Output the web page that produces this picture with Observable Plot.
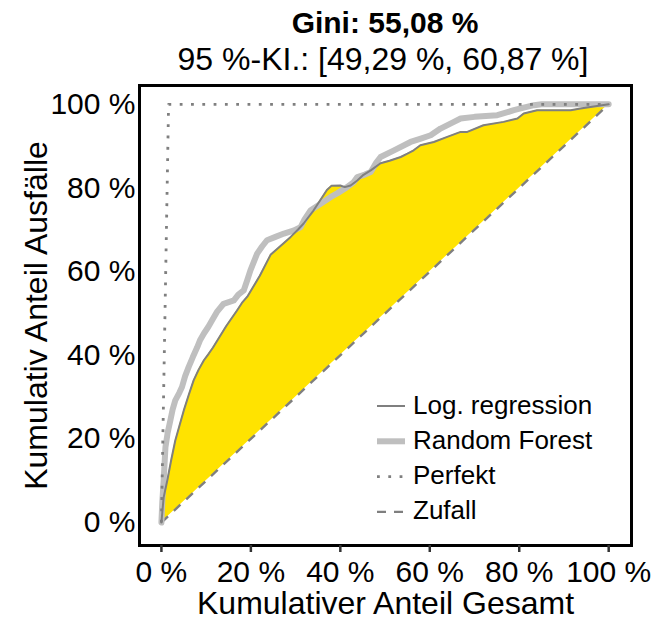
<!DOCTYPE html>
<html>
<head>
<meta charset="utf-8">
<script src="https://cdn.jsdelivr.net/npm/d3@7"></script>
<script src="https://cdn.jsdelivr.net/npm/@observablehq/plot@0.6"></script>
<style>
  body { margin: 0; background: white; }
  #wrap { position: relative; width: 671px; height: 619px; font-family: "Liberation Sans", Arial, sans-serif; }
  #head, #legend { position: absolute; left: 0; top: 0; }
  #plot { position: absolute; left: 0; top: 80px; }
</style>
</head>
<body>
<div id="wrap">
  <svg id="head" width="671" height="80"></svg>
  <div id="plot"></div>
  <svg id="legend" width="671" height="619"></svg>
</div>
<script>
// ---- Data (percent) ----
const titleText = "Gini: 55,08 %";
const subtitleText = "95 %-KI.: [49,29 %, 60,87 %]";
const xLabel = "Kumulativer Anteil Gesamt";
const yLabel = "Kumulativ Anteil Ausfälle";
const xTicks = [0, 20, 40, 60, 80, 100];
const yTicks = [0, 20, 40, 60, 80, 100];

const logX = [0, 0.5, 1.3, 2.2, 3.1, 4, 5, 6.1, 7.2, 8.3, 9.5, 10.6, 11.5, 12.5, 14.5, 16.9, 18, 19.2, 20.5, 22, 24.4, 26.5, 28.9, 30.5, 31.8, 34, 36.2, 37, 38, 40, 41, 42.3, 43.8, 45, 46.8, 49, 51, 53.5, 55, 56.4, 57.9, 60.9, 63.9, 66.9, 68.4, 72, 76.5, 79.6, 81, 84, 91.5, 93.7, 100];
const logY = [0, 6, 10, 15, 19.6, 23, 26.8, 30.5, 34, 36.5, 38.8, 40.4, 41.8, 43.5, 47, 50.7, 52.5, 54, 56.3, 59, 64, 66, 68.3, 70, 71.5, 74.6, 78.2, 79.5, 80.5, 80.6, 80.2, 80.6, 81.8, 83, 84.2, 85.9, 86.5, 87.4, 88.2, 89, 90.2, 91, 92.2, 93.4, 93.4, 95, 95.8, 96.6, 97.8, 98.6, 98.6, 99, 100];

const rfX = [0, 0.2, 0.5, 0.9, 1.4, 2, 2.5, 3.1, 4, 4.6, 5.3, 6.1, 7, 8, 8.6, 9.5, 10.5, 11.3, 12.5, 13.9, 16.2, 17.2, 18.4, 19.2, 19.9, 21.4, 22.5, 23.6, 25.5, 27.4, 29.5, 31.1, 32, 33.3, 35.6, 37.8, 39.3, 41.5, 43, 43.8, 45.5, 46.8, 48, 49, 52, 55.7, 58, 60.2, 62.4, 65.4, 66.9, 70, 75.1, 77, 78.8, 81, 83.3, 85, 100];
const rfY = [0, 5, 10, 18, 21.5, 24.4, 27, 29.2, 31, 32.4, 35, 37.2, 39.5, 41.9, 43.5, 45.2, 46.8, 48.3, 50.5, 52.3, 53.1, 54.5, 55.5, 58, 60.3, 64.3, 66, 67.5, 68.3, 69.1, 69.8, 70.6, 72.5, 74.6, 76.2, 77.8, 78.7, 80.2, 81.4, 82.6, 83.2, 83.8, 86, 87.4, 89, 91, 91.8, 92.6, 94.2, 95.8, 96.6, 97, 97.4, 98, 98.6, 99.2, 99.8, 100, 100];

const perfektX = [0, 1.6, 100];
const perfektY = [0, 100, 100];
const zufallX = [0, 100];
const zufallY = [0, 100];

const legendNames = ["Log. regression", "Random Forest", "Perfekt", "Zufall"];

// ---- styles ----
const YELLOW = "#FFE300";
const DARK = "#7f7f7f";
const LIGHT = "#bfbfbf";
const FONT = "'Liberation Sans', Arial, sans-serif";
const legendStyles = [
  {stroke: DARK, width: 2, dash: null},
  {stroke: LIGHT, width: 6, dash: null},
  {stroke: DARK, width: 2.8, dash: "2.8 8.5"},
  {stroke: DARK, width: 2.4, dash: "9 8"}
];

const toRows = (xs, ys) => xs.map((x, i) => ({x, y: ys[i]}));
const logData = toRows(logX, logY);
const rfData = toRows(rfX, rfY);
const perfekt = toRows(perfektX, perfektY);
const zufall = toRows(zufallX, zufallY);

const chart = Plot.plot({
  width: 671,
  height: 539,
  marginTop: 5,
  marginBottom: 74,
  marginLeft: 139,
  marginRight: 40,
  x: {domain: [-4.9, 105.1]},
  y: {domain: [-5.5, 104.5]},
  style: {fontFamily: FONT, fontSize: "30px", background: "white", color: "black", overflow: "visible"},
  marks: [
    Plot.areaY(logData, {x: "x", y1: d => d.x, y2: "y", fill: YELLOW}),
    Plot.line(zufall, {x: "x", y: "y", stroke: DARK, strokeWidth: 2.4, strokeDasharray: "9 8", strokeLinecap: "butt"}),
    Plot.line(rfData, {x: "x", y: "y", stroke: LIGHT, strokeWidth: 6}),
    Plot.line(logData, {x: "x", y: "y", stroke: DARK, strokeWidth: 2}),
    Plot.line(perfekt, {x: "x", y: "y", stroke: DARK, strokeWidth: 2.8, strokeDasharray: "2.8 8.5", strokeLinecap: "butt"}),
    Plot.frame({stroke: "black", strokeWidth: 3}),
    Plot.axisX({ticks: xTicks, tickFormat: d => d + " %", tickSize: 7, tickPadding: 8, stroke: "#333", strokeWidth: 2.5, label: null}),
    Plot.axisY({ticks: yTicks, tickFormat: d => d + " %", tickSize: 0, tickPadding: 4, label: null}),
    Plot.text([xLabel], {text: d => d, frameAnchor: "bottom", textAnchor: "middle", lineAnchor: "bottom", dy: 68, fontSize: 32, fill: "black"}),
    Plot.text([yLabel], {text: d => d, frameAnchor: "left", textAnchor: "middle", lineAnchor: "bottom", rotate: -90, dx: -93, fontSize: 32, fill: "black"})
  ]
});
document.getElementById("plot").appendChild(chart);

// ---- header ----
const head = d3.select("#head");
head.append("text").attr("x", 385).attr("y", 33).attr("text-anchor", "middle")
  .attr("font-weight", "bold").attr("font-size", 30).attr("font-family", FONT)
  .text(titleText);
head.append("text").attr("x", 383).attr("y", 70).attr("text-anchor", "middle")
  .attr("font-size", 32).attr("font-family", FONT)
  .text(subtitleText);

// ---- legend ----
const leg = d3.select("#legend");
legendNames.forEach((name, i) => {
  const s = legendStyles[i];
  const cy = 406 + i * 35.3;
  const l = leg.append("line").attr("x1", 377).attr("x2", 405).attr("y1", cy).attr("y2", cy)
    .attr("stroke", s.stroke).attr("stroke-width", s.width);
  if (s.dash) l.attr("stroke-dasharray", s.dash);
  leg.append("text").attr("x", 413).attr("y", cy + 7.5).attr("font-size", 26)
    .attr("font-family", FONT).text(name);
});
</script>
</body>
</html>
